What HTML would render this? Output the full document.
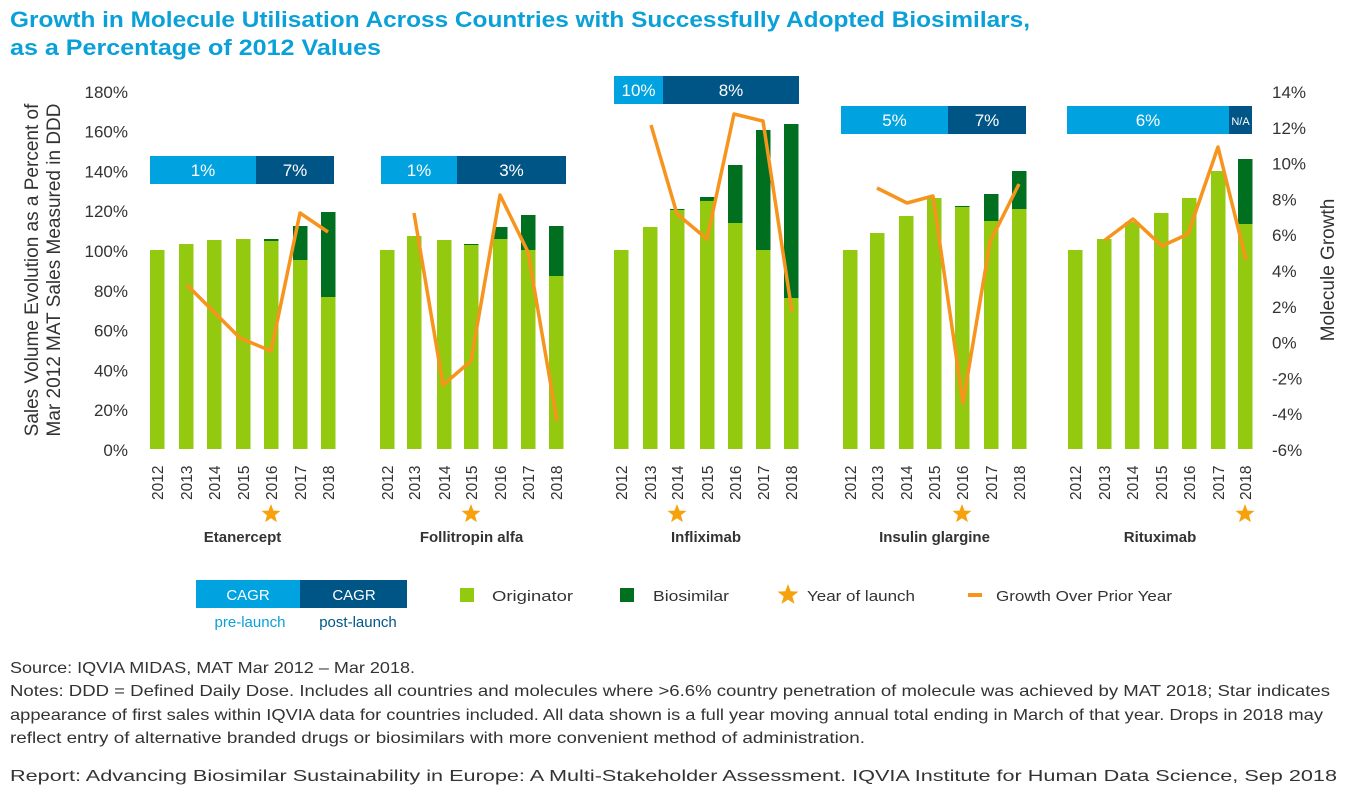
<!DOCTYPE html>
<html><head><meta charset="utf-8"><style>
body{margin:0;background:#fff;width:1352px;height:795px;overflow:hidden;font-family:"Liberation Sans",sans-serif}
</style></head><body>
<svg id="s" width="1352" height="795" xmlns="http://www.w3.org/2000/svg" font-family="Liberation Sans, sans-serif">
<text x="10" y="27" font-size="22" font-weight="bold" fill="#0aa0d8" textLength="1020" lengthAdjust="spacingAndGlyphs">Growth in Molecule Utilisation Across Countries with Successfully Adopted Biosimilars,</text>
<text x="10" y="55" font-size="22" font-weight="bold" fill="#0aa0d8" textLength="371" lengthAdjust="spacingAndGlyphs">as a Percentage of 2012 Values</text>
<g id="g"></g>
<text transform="translate(38,270) rotate(-90)" text-anchor="middle" font-size="19" fill="#333">Sales Volume Evolution as a Percent of</text>
<text transform="translate(60,270) rotate(-90)" text-anchor="middle" font-size="19" fill="#333">Mar 2012 MAT Sales  Measured in DDD</text>
<text transform="translate(1334,270) rotate(-90)" text-anchor="middle" font-size="19" fill="#333">Molecule Growth</text>
<rect x="196" y="580" width="104" height="28" fill="#00a3e0"/><rect x="300" y="580" width="107" height="28" fill="#005587"/>
<text x="248" y="600" text-anchor="middle" font-size="15" fill="#fff">CAGR</text>
<text x="354" y="600" text-anchor="middle" font-size="15" fill="#fff">CAGR</text>
<text x="250" y="627" text-anchor="middle" font-size="15" fill="#0aa0d8">pre-launch</text>
<text x="358" y="627" text-anchor="middle" font-size="15" fill="#005587">post-launch</text>
<rect x="460" y="588" width="14" height="14" fill="#93c90e"/><text x="492" y="601" font-size="15" fill="#333" textLength="81" lengthAdjust="spacingAndGlyphs">Originator</text>
<rect x="620" y="588" width="14" height="14" fill="#006f20"/><text x="653" y="601" font-size="15" fill="#333" textLength="76" lengthAdjust="spacingAndGlyphs">Biosimilar</text>
<polygon id="lgstar" fill="#f7a10c"/>
<text x="807" y="601" font-size="15" fill="#333" textLength="108" lengthAdjust="spacingAndGlyphs">Year of launch</text>
<rect x="968" y="593" width="14" height="4" fill="#f7941d"/><text x="996" y="601" font-size="15" fill="#333" textLength="176" lengthAdjust="spacingAndGlyphs">Growth Over Prior Year</text>
<g font-size="16" fill="#333">
<text x="10" y="673" textLength="405" lengthAdjust="spacingAndGlyphs">Source: IQVIA MIDAS, MAT Mar 2012 – Mar 2018.</text>
<text x="10" y="696" textLength="1320" lengthAdjust="spacingAndGlyphs">Notes: DDD = Defined Daily Dose. Includes all countries and molecules where &gt;6.6% country penetration of molecule was achieved by MAT 2018; Star indicates</text>
<text x="10" y="720" textLength="1313" lengthAdjust="spacingAndGlyphs">appearance of first sales within IQVIA data for countries included. All data shown is a full year moving annual total ending in March of that year. Drops in 2018 may</text>
<text x="10" y="743" textLength="855" lengthAdjust="spacingAndGlyphs">reflect entry of alternative branded drugs or biosimilars with more convenient method of administration.</text>
<text x="10" y="781" textLength="1327" lengthAdjust="spacingAndGlyphs">Report: Advancing Biosimilar Sustainability in Europe: A Multi-Stakeholder Assessment. IQVIA Institute for Human Data Science, Sep 2018</text>
</g>
</svg>
<script>
const g=document.getElementById('g');let h='';
const B=449;
for(let i=0;i<=9;i++){const y=450-i*39.8;h+=`<text x="128" y="${y+6}" text-anchor="end" font-size="17" fill="#333">${i*20}%</text>`;}
for(let i=0;i<=10;i++){const r=14-i*2;h+=`<text x="1272" y="${(92+i*35.8+6).toFixed(1)}" font-size="17" fill="#333">${r}%</text>`;}
function star(cx,cy,R){let p=[];for(let k=0;k<10;k++){const r=k%2?R*0.42:R;const a=-Math.PI/2+k*Math.PI/5;p.push((cx+r*Math.cos(a)).toFixed(1)+','+(cy+r*Math.sin(a)).toFixed(1));}return p.join(' ');}
const G=[
{n:'Etanercept',x:[150,179,207,236,264,293,321],o:[250,244,240,239,241,260,297],t:[250,244,240,239,239,226,212],L:[[187,285],[214,312],[240,338],[271,351],[300,213],[328,232]],s:4,c:[150,256,334,156,'1%','7%']},
{n:'Follitropin alfa',x:[380,407,437,464,493,521,549],o:[250,236,240,245,239,250,276],t:[250,236,240,244,227,215,226],L:[[414,213],[443,385],[471,361],[500,195],[528,252],[557,421]],s:3,c:[381,457,566,156,'1%','3%']},
{n:'Infliximab',x:[614,643,670,700,728,756,784],o:[250,227,210,201,223,250,298],t:[250,227,209,197,165,130,124],L:[[651,125],[677,214],[707,239],[734,114],[763,121],[792,312]],s:2,c:[614,663,799,76,'10%','8%']},
{n:'Insulin glargine',x:[843,870,899,927,955,984,1012],o:[250,233,216,198,207,221,209],t:[250,233,216,198,206,194,171],L:[[877,188],[907,203],[933,196],[963,403],[990,242],[1019,184]],s:4,c:[841,948,1026,106,'5%','7%']},
{n:'Rituximab',x:[1068,1097,1125,1154,1182,1211,1238],o:[250,239,222,213,198,171,224],t:[250,239,222,213,198,171,159],L:[[1105,240],[1133,219],[1162,246],[1188,234],[1218,147],[1246,260]],s:6,c:[1067,1229,1252,106,'6%','N/A']}];
G.forEach(d=>{
 d.x.forEach((x,i)=>{
  const tt=d.t[i];
  if(tt<d.o[i]) h+=`<rect x="${x}" y="${tt}" width="14.5" height="${d.o[i]-tt}" fill="#006f20"/>`;
  h+=`<rect x="${x}" y="${d.o[i]}" width="14.5" height="${B-d.o[i]}" fill="#93c90e"/>`;
  h+=`<text transform="translate(${x+13},500) rotate(-90)" font-size="15.5" fill="#333">${2012+i}</text>`;
 });
 h+=`<polyline points="${d.L.map(p=>p.join(',')).join(' ')}" fill="none" stroke="#f7941d" stroke-width="3.5" stroke-linejoin="round"/>`;
 const sx=d.x[d.s]+7;h+=`<polygon points="${star(sx,514,10)}" fill="#f7a10c"/>`;
 h+=`<text x="${(d.x[0]+d.x[6]+14)/2}" y="542" text-anchor="middle" font-size="15" font-weight="bold" fill="#333">${d.n}</text>`;
 const c=d.c;
 h+=`<rect x="${c[0]}" y="${c[3]}" width="${c[1]-c[0]}" height="28" fill="#00a3e0"/><rect x="${c[1]}" y="${c[3]}" width="${c[2]-c[1]}" height="28" fill="#005587"/>`;
 h+=`<text x="${(c[0]+c[1])/2}" y="${c[3]+20}" text-anchor="middle" font-size="17" fill="#fff">${c[4]}</text>`;
 h+=`<text x="${(c[1]+c[2])/2}" y="${c[3]+(c[5]=='N/A'?19:20)}" text-anchor="middle" font-size="${c[5]=='N/A'?11:17}" fill="#fff">${c[5]}</text>`;
});
g.innerHTML=h;
document.getElementById('lgstar').setAttribute('points',star(788,595,11));
</script>
</body></html>
